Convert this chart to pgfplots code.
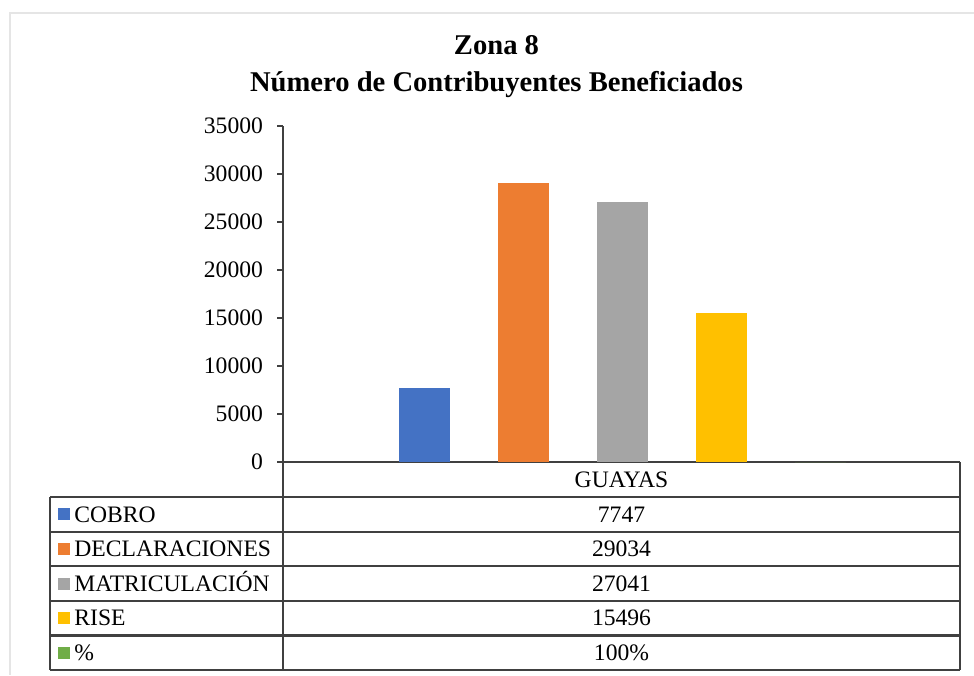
\documentclass[border=0pt]{standalone}
\usepackage{pgfplots}
\pgfplotsset{compat=1.18}
\usepackage{fontspec}
\setmainfont{Liberation Serif}
\definecolor{cBlue}{HTML}{4472C4}
\definecolor{cOrange}{HTML}{ED7D31}
\definecolor{cGray}{HTML}{A5A5A5}
\definecolor{cGold}{HTML}{FFC000}
\definecolor{cGreen}{HTML}{70AD47}
\newcommand{\tf}{\fontsize{11.8}{14}\selectfont}
\begin{document}
\begin{tikzpicture}
\useasboundingbox (0,0) rectangle (487pt,337.5pt);
\begin{axis}[
  at={(141.5pt,106.5pt)}, anchor=south west,
  scale only axis, width=338.5pt, height=168pt,
  xmin=-1.43, xmax=5.41, ymin=0, ymax=35000,
  axis x line*=bottom, axis y line*=left,
  axis line style={black!75, line width=1.1pt, -},
  xtick=\empty,
  ytick={0,5000,...,35000},
  tick align=outside, major tick length=3pt,
  ytick style={black!75, line width=1.1pt},
  scaled y ticks=false,
  /pgf/number format/1000 sep={},
  /pgf/number format/assume math mode=true,
  yticklabel style={font=\tf, xshift=-3.5pt},
]
\addplot[ybar, bar width=0.515, bar shift=0pt, fill=cBlue, draw=none] coordinates {(0,7747)};
\addplot[ybar, bar width=0.515, bar shift=0pt, fill=cOrange, draw=none] coordinates {(1,29034)};
\addplot[ybar, bar width=0.515, bar shift=0pt, fill=cGray, draw=none] coordinates {(2,27041)};
\addplot[ybar, bar width=0.515, bar shift=0pt, fill=cGold, draw=none] coordinates {(3,15496)};
\addplot[ybar, bar width=0.515, bar shift=0pt, fill=cGreen, draw=none] coordinates {(4,1)};
\end{axis}
\begin{scope}[x=0.5pt,y=-0.5pt,shift={(0pt,337.5pt)}]
  % faint frame
  \draw[black!10, line width=1pt] (10,675) -- (10,13) -- (974,13);
  % title
  \node[anchor=base, font=\fontsize{14.3}{16}\selectfont\bfseries, inner sep=0pt] at (496.5,55) {Zona 8};
  \node[anchor=base, font=\fontsize{14.3}{16}\selectfont\bfseries, inner sep=0pt] at (496.5,92) {Número de Contribuyentes Beneficiados};
  % table lines
  \tikzset{tbl/.style={black!75, line width=1.1pt}}
  \draw[tbl] (283,462) -- (283,670);
  \draw[tbl] (960,462) -- (960,670);
  \draw[tbl] (50,497) -- (50,670);
  \foreach \y in {497,531.6,566.2,600.8,635.4,670} \draw[tbl] (50,\y) -- (960,\y);
  % header
  \node[anchor=base, font=\tf, inner sep=0pt] at (621.5,487.3) {GUAYAS};
  % rows
  \foreach \c/\lab/\val/\yc in {cBlue/COBRO/7747/514.3, cOrange/DECLARACIONES/29034/548.9, cGray/MATRICULACIÓN/27041/583.5, cGold/RISE/15496/618.1, cGreen/\%/100\%/652.7} {
    \fill[\c] (58,\yc-6) rectangle (70,\yc+6);
    \node[anchor=base west, font=\tf, inner sep=0pt] at (74,\yc+7.8) {\lab};
    \node[anchor=base, font=\tf, inner sep=0pt] at (621.5,\yc+7.8) {\val};
  }
\end{scope}
\end{tikzpicture}
\end{document}
